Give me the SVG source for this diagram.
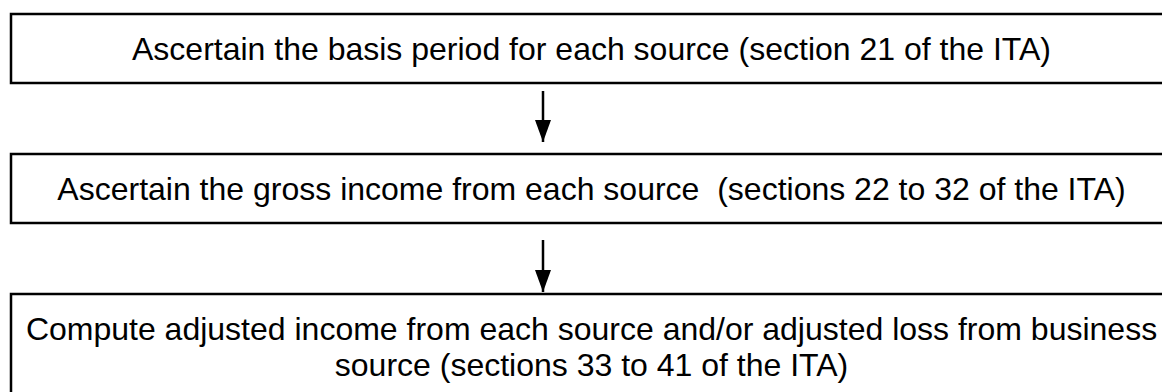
<svg xmlns="http://www.w3.org/2000/svg" width="1162" height="392" viewBox="0 0 1162 392">
<style>
.box{fill:#fff;stroke:#000;stroke-width:2.5}
.t{font-family:"Liberation Sans",Arial,sans-serif;font-size:32px;fill:#000;text-anchor:middle}
.c{stroke:#000;stroke-width:2.5;fill:none}
</style>
<defs>
<marker id="ah" markerWidth="22" markerHeight="16" refX="22" refY="8" orient="auto" markerUnits="userSpaceOnUse" viewBox="0 0 22 16">
<path d="M0,0 L22,8 L0,16 Z" fill="#000"/>
</marker>
</defs>
<rect width="1162" height="392" fill="#fff"/>
<g id="n1"><rect class="box" x="11" y="14" width="1161" height="69"/><text class="t" x="591.5" y="60">Ascertain the basis period for each source (section 21 of the ITA)</text></g>
<g id="n2"><rect class="box" x="11" y="154" width="1161" height="69"/><text class="t" x="591.5" y="200" xml:space="preserve">Ascertain the gross income from each source  (sections 22 to 32 of the ITA)</text></g>
<g id="n3"><rect class="box" x="11" y="294" width="1161" height="120"/><text class="t" x="591.5" y="340">Compute adjusted income from each source and/or adjusted loss from business</text><text class="t" x="591.5" y="376">source (sections 33 to 41 of the ITA)</text></g>
<g id="connectors">
<line class="c" x1="543" y1="91" x2="543" y2="142" marker-end="url(#ah)"/>
<line class="c" x1="543" y1="240" x2="543" y2="292" marker-end="url(#ah)"/>
</g>
</svg>
